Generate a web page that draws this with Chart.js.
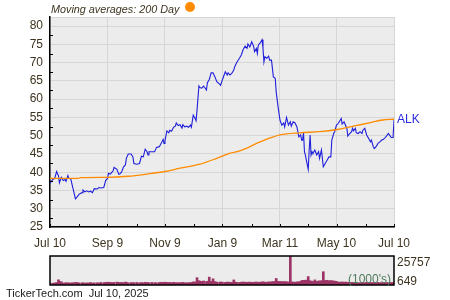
<!DOCTYPE html>
<html><head><meta charset="utf-8">
<script src="https://cdn.jsdelivr.net/npm/chart.js@4/dist/chart.umd.min.js"></script>
<style>
html,body{margin:0;padding:0;background:#fff;width:450px;height:300px;overflow:hidden;font-family:"Liberation Sans",Arial,sans-serif;}
#main{position:absolute;left:0;top:0;}
#vol{position:absolute;left:0;top:250px;}
.t{position:absolute;white-space:nowrap;}
</style></head><body>
<canvas id="main" width="450" height="250"></canvas>
<canvas id="vol" width="450" height="40"></canvas>
<div class="t" style="left:51px;top:2px;font:italic 10.8px 'Liberation Sans';color:#3d3420;line-height:14px;">Moving averages: 200 Day</div>
<div class="t" style="left:185px;top:2px;width:10px;height:10px;border-radius:50%;background:#ff8c00;"></div>
<div class="t" style="left:6px;top:287px;font:11px 'Liberation Sans';color:#1a1a1a;line-height:13px;">TickerTech.com&nbsp;&nbsp;Jul 10, 2025</div>
<script>
// ---- data (day offsets from Jul 10, 2024) ----
const days = [0,3,5,7,9,10,12,14,16,17,19,20,22,24,27,29,31,34,35,37,39,41,43,45,47,50,52,54,57,58,
59,61,62,64,66,67,68,71,73,74,76,78,80,81,83,86,88,89,92,95,97,99,101,103,104,105,108,111,113,116,
118,120,121,122,124,126,127,129,131,133,134,136,138,140,141,143,145,147,149,150,152,154,155,156,158,159,161,163,166,167,
169,171,173,175,177,180,181,183,186,188,189,191,193,195,196,198,201,203,205,207,209,210,212,214,216,217,219,220,221,223,
225,226,227,228,230,232,233,235,237,239,240,242,244,246,248,249,251,253,255,256,258,260,262,263,264,266,267,268,269,270,
271,272,274,275,276,277,278,279,281,283,285,286,288,290,292,294,296,298,299,301,302,304,306,308,309,310,312,314,315,316,
318,320,321,322,324,325,327,329,331,332,334,336,338,340,341,343,344,346,348,350,352,354,355,357,359,361,362,364,365];
const prices = [37.0,38.0,38.3,40.2,39.0,37.1,38.6,37.7,38.0,37.5,39.1,38.3,38.2,36.0,32.7,33.3,34.0,34.4,35.1,34.6,34.9,34.6,34.8,34.4,35.5,35.4,35.8,35.7,35.8,36.7,
37.7,38.3,39.7,39.5,40.1,40.4,41.3,40.8,39.4,39.5,40.1,41.5,42.0,43.8,45.0,45.0,44.2,42.4,42.2,42.4,44.4,44.2,46.3,45.6,44.7,45.6,45.6,45.6,46.8,47.0,
47.9,49.0,47.9,48.6,51.3,50.8,51.5,51.2,52.3,52.6,53.5,52.8,53.0,52.1,53.0,52.4,52.6,52.3,52.9,52.3,55.6,54.7,54.1,57.0,63.6,63.2,63.0,63.6,62.5,64.5,
65.4,67.2,67.2,66.1,64.8,64.1,63.8,65.4,67.5,66.6,67.2,66.6,67.1,68.0,68.9,70.0,71.2,72.1,73.6,74.5,73.9,75.1,74.3,75.7,74.5,73.0,73.9,72.5,74.8,75.4,
76.3,73.9,70.2,71.6,71.2,71.8,70.7,70.7,66.1,65.7,62.0,57.9,54.3,52.9,53.5,52.4,55.0,52.9,53.8,52.6,53.8,53.5,52.4,51.1,49.7,50.2,48.8,48.8,50.8,45.6,
44.7,43.3,40.8,46.1,50.2,44.7,45.6,45.2,46.1,44.7,45.6,43.8,46.1,41.5,42.4,43.3,44.2,44.2,48.8,50.6,51.1,52.9,53.4,54.3,54.7,53.2,53.8,52.6,52.0,49.9,
50.6,51.1,52.0,51.3,52.0,50.8,50.6,51.1,50.6,51.5,52.0,50.2,49.3,48.3,48.8,47.0,46.5,47.0,47.9,48.3,48.8,49.0,49.3,49.9,50.6,49.9,49.5,49.5,54.3];
const volumes = [1700,1600,1800,2200,4600,3000,2900,1800,1700,2000,
1800,1900,1700,2100,2400,2200,1900,1800,2000,1700,
1800,1900,2200,1700,1900,2000,1800,2300,1900,2100,
2200,2500,2100,2400,1900,2000,2300,2600,2200,2000,
2300,2100,2600,2400,2000,2200,1900,2100,2300,2000,
2200,2000,2400,2100,1900,2000,2300,2100,2000,2200,
2400,2200,2100,2500,2300,2000,2200,2100,2400,2000,
1900,2100,2000,2200,2300,2000,1900,2100,2000,2200,
2800,2600,2500,6500,3800,3400,3200,3600,3000,3300,
7000,3200,5500,3000,2600,2400,2700,2500,2300,2600,
2400,2500,2300,4500,2600,2400,2300,2500,2700,2400,
2500,2300,2600,2400,2200,2500,2700,2400,2300,2600,
2500,2800,2600,2400,2500,2700,2600,2900,3000,3200,
5800,3300,3100,3000,2800,3000,2900,2700,25757,2800,
2600,2500,2700,2600,2800,3000,3800,4000,3900,4200,
4000,4300,7500,3800,3600,3200,3400,3000,4500,3200,
3500,3600,3800,11800,4000,4200,3800,3900,3700,3500,
3400,3200,2600,2500,2400,2700,2500,2600,2300,2400,
2200,2100,2300,2000,2200,2100,2000,1900,2200,2000,
2100,2300,2000,1900,2200,2000,2100,1900,2300,2000,
2100,2000,1900,2200,2000,2300,2100,2000,2400];
const maDays = [0,30,32,60,83,103,122,138,159,177,191,202,223,244,265,286,305,322,340,353,365];
const maValues = [38.3,38.3,38.5,38.6,38.9,39.5,40.2,41.1,42.2,43.8,45.2,45.9,48.3,50.2,50.8,51.1,51.7,52.6,53.6,54.3,54.5];
const monthTickDays = [0,31,61,92,122,153,183,214,244,274,304,335,365];
const labelTickDays = [0,61,122,183,244,304,365];
const labelTickText = ['Jul 10','Sep 9','Nov 9','Jan 9','Mar 11','May 10','Jul 10'];
const ticker = 'ALK';
const volMaxLabel = '25757', volMinLabel = '649';

const TXT = '#3d3420';
const FONT = "'Liberation Sans', Arial, sans-serif";

const bgPlugin = {
  id:'bg',
  beforeDraw(chart){
    const {ctx, chartArea:a} = chart;
    ctx.save(); ctx.fillStyle = '#ececec';
    ctx.fillRect(a.left, a.top, a.right-a.left, a.bottom-a.top); ctx.restore();
  }
};

const mainDeco = {
  id:'mainDeco',
  afterDraw(chart){
    const {ctx, chartArea:a, scales:{x,y}} = chart;
    ctx.save();
    ctx.strokeStyle = '#000'; ctx.lineWidth = 1;
    for (let v = 27.5; v < 82.5; v += 5){
      const py = Math.round(y.getPixelForValue(v)) + 0.5;
      ctx.beginPath(); ctx.moveTo(a.left, py); ctx.lineTo(a.left+3, py); ctx.stroke();
    }
    monthTickDays.forEach(d => {
      const px = Math.round(x.getPixelForValue(d)) + 0.5;
      ctx.beginPath(); ctx.moveTo(px, a.bottom); ctx.lineTo(px, a.bottom-3); ctx.stroke();
    });
    ctx.fillStyle = '#2a2ae0'; ctx.font = '12px ' + FONT; ctx.textBaseline = 'middle'; ctx.textAlign='left';
    ctx.fillText(ticker, a.right + 3, y.getPixelForValue(prices[prices.length-1]));
    ctx.restore();
  }
};

new Chart(document.getElementById('main'), {
  type:'line',
  data:{
    datasets:[
      {data: maDays.map((d,i)=>({x:d,y:maValues[i]})), borderColor:'#ff8c00', borderWidth:1.3, pointRadius:0, cubicInterpolationMode:'monotone', order:1},
      {data: days.map((d,i)=>({x:d,y:prices[i]})), borderColor:'#1f1fdc', borderWidth:1.1, pointRadius:0, tension:0, order:2}
    ]
  },
  options:{
    responsive:false, animation:false,
    layout:{padding:{left:0,right:56,top:17,bottom:0}},
    plugins:{legend:{display:false}, tooltip:{enabled:false}},
    scales:{
      x:{type:'linear', min:0, max:365,
        afterBuildTicks(s){ s.ticks = monthTickDays.map(v=>({value:v})); },
        afterFit(s){ s.height = 23; },
        ticks:{autoSkip:false, maxRotation:0, padding:9, color:TXT, font:{family:FONT,size:12},
          callback(v){ const i = labelTickDays.indexOf(v); return i>=0 ? labelTickText[i] : ''; }},
        grid:{drawTicks:false, lineWidth:1, color(c){ return c.tick && labelTickDays.includes(c.tick.value) ? '#d6d6d6' : 'rgba(0,0,0,0)'; }},
        border:{display:true, color:'#000', width:1.5}
      },
      y:{type:'linear', min:25, max:82.5,
        afterBuildTicks(s){ const t=[]; for(let v=25; v<=82.5; v+=5) t.push({value:v}); t.push({value:82.5}); s.ticks=t; },
        afterFit(s){ s.width = 50; },
        ticks:{padding:7, color:TXT, font:{family:FONT,size:12}, callback(v){ return v===82.5 ? '' : String(v); }},
        grid:{drawTicks:false, lineWidth:1, color:'#d6d6d6'},
        border:{display:true, color:'#000', width:1.5}
      }
    }
  },
  plugins:[bgPlugin, mainDeco]
});

const volDeco = {
  id:'volDeco',
  afterDraw(chart){
    const {ctx, chartArea:a} = chart;
    ctx.save();
    ctx.strokeStyle = '#000'; ctx.lineWidth = 1.5;
    ctx.strokeRect(a.left, a.top, a.right-a.left, a.bottom-a.top);
    ctx.font = '12px ' + FONT; ctx.textBaseline='middle';
    ctx.fillStyle = '#4f7a5c'; ctx.textAlign='right';
    ctx.fillText("(1000's)", a.right - 3, a.bottom - 5);
    ctx.fillStyle = TXT; ctx.textAlign='left';
    ctx.fillText(volMaxLabel, a.right + 3, a.top + 7);
    ctx.fillText(volMinLabel, a.right + 3, a.bottom - 3);
    ctx.restore();
  }
};

new Chart(document.getElementById('vol'), {
  type:'bar',
  data:{datasets:[{data: days.map((d,i)=>({x:d,y:volumes[i]})), backgroundColor:'#9c3565', barThickness:2, borderWidth:0}]},
  options:{
    responsive:false, animation:false,
    layout:{padding:{left:50,right:56,top:6,bottom:5}},
    plugins:{legend:{display:false}, tooltip:{enabled:false}},
    scales:{
      x:{type:'linear', min:0, max:365, display:false, offset:false},
      y:{min:0, max:25757, display:false}
    }
  },
  plugins:[bgPlugin, volDeco]
});
</script>
</body></html>
